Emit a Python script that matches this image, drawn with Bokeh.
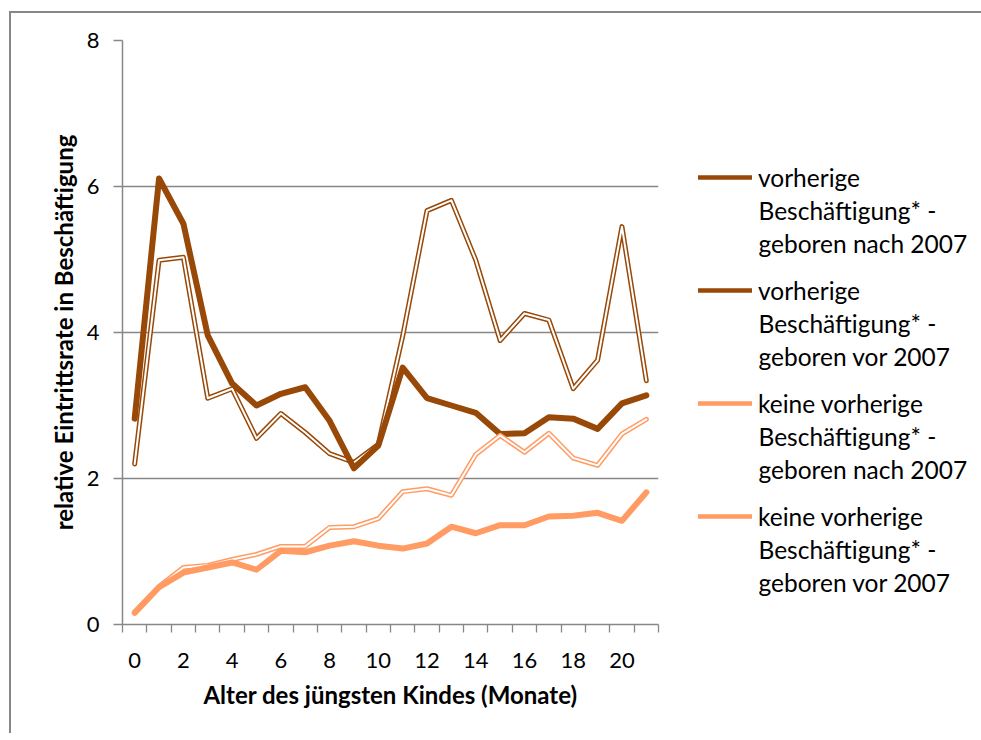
from bokeh.plotting import figure
from bokeh.layouts import row
from bokeh.models import (Range1d, FixedTicker, Legend, LegendItem, Title, Label,
                          ColumnDataSource)
from bokeh.embed import file_html
from bokeh.resources import INLINE

# ---- data ----
months = list(range(22))
x_tick_labels = [0, 2, 4, 6, 8, 10, 12, 14, 16, 18, 20]
y_ticks = [0, 2, 4, 6, 8]

vorherige_nach_2007 = [2.20, 4.99, 5.03, 3.10, 3.23, 2.55, 2.89, 2.63, 2.34, 2.22, 2.47,
                       3.95, 5.67, 5.81, 4.99, 3.89, 4.26, 4.17, 3.23, 3.62, 5.45, 3.34]
vorherige_vor_2007 = [2.82, 6.11, 5.49, 3.96, 3.30, 3.00, 3.16, 3.25, 2.79, 2.14, 2.45,
                      3.52, 3.10, 3.00, 2.90, 2.61, 2.62, 2.84, 2.82, 2.68, 3.03, 3.14]
keine_nach_2007 = [0.17, 0.52, 0.78, 0.81, 0.89, 0.96, 1.07, 1.07, 1.33, 1.34, 1.45,
                   1.82, 1.86, 1.77, 2.33, 2.59, 2.36, 2.62, 2.28, 2.18, 2.61, 2.81]
keine_vor_2007 = [0.16, 0.51, 0.71, 0.78, 0.85, 0.75, 1.01, 0.99, 1.08, 1.14, 1.08,
                  1.04, 1.11, 1.34, 1.25, 1.36, 1.36, 1.48, 1.49, 1.53, 1.42, 1.81]

legend_lines = [
    ["vorherige", "Beschäftigung* -", "geboren nach 2007"],
    ["vorherige", "Beschäftigung* -", "geboren vor 2007"],
    ["keine vorherige", "Beschäftigung* -", "geboren nach 2007"],
    ["keine vorherige", "Beschäftigung* -", "geboren vor 2007"],
]
x_title = "Alter des jüngsten Kindes (Monate)"
y_title = "relative Eintrittsrate in Beschäftigung"

DARK = "#984807"
LIGHT = "#FF9B63"
GRID = "#878787"
FONT = "Lato"

# canvas offset caused by css margin + border on the row
OX, OY = 11, 13
H = 720
W1 = 652
W2 = 318
FL, FT, FB = 122 - OX, 40 - OY, 624 - OY

p = figure(width=W1, height=H, output_backend="svg", toolbar_location=None,
           x_range=Range1d(-0.5, 21.5), y_range=Range1d(0, 8),
           min_border_left=FL, min_border_top=FT,
           min_border_right=W1 - (658 - OX), min_border_bottom=H - FB)
p.outline_line_color = None
p.background_fill_color = "white"
p.border_fill_color = "white"

# axes
xa = p.xaxis[0]
xa.ticker = FixedTicker(ticks=x_tick_labels,
                        minor_ticks=[m - 0.5 for m in months] + [21.5])
xa.major_tick_out = 0
xa.major_tick_in = 0
xa.minor_tick_out = 8
xa.minor_tick_in = 0
xa.minor_tick_line_color = GRID
xa.minor_tick_line_width = 1.3
xa.axis_line_color = GRID
xa.axis_line_width = 1.5
xa.major_label_text_font = FONT
xa.major_label_text_font_size = "22px"
xa.major_label_text_color = "black"
xa.major_label_standoff = 20

ya = p.yaxis[0]
ya.ticker = FixedTicker(ticks=y_ticks)
ya.major_tick_out = 9
ya.major_tick_in = 0
ya.major_tick_line_color = GRID
ya.major_tick_line_width = 1.3
ya.minor_tick_line_color = None
ya.axis_line_color = GRID
ya.axis_line_width = 1.5
ya.major_label_text_font = FONT
ya.major_label_text_font_size = "22px"
ya.major_label_text_color = "black"
ya.major_label_standoff = 14

p.xgrid.visible = False
p.ygrid.ticker = FixedTicker(ticks=y_ticks[1:])
p.ygrid.grid_line_color = GRID
p.ygrid.grid_line_width = 1.5

src = ColumnDataSource(dict(x=months, a=vorherige_nach_2007, b=vorherige_vor_2007,
                            c=keine_nach_2007, d=keine_vor_2007))

# series 1: double dark
p.line("x", "a", source=src, line_color=DARK, line_width=5,
       line_join="round", line_cap="round")
p.line("x", "a", source=src, line_color="white", line_width=2,
       line_join="round", line_cap="round")
# series 2: thick dark
p.line("x", "b", source=src, line_color=DARK, line_width=6,
       line_join="round", line_cap="round")
# series 3: double light
p.line("x", "c", source=src, line_color=LIGHT, line_width=5,
       line_join="round", line_cap="round")
p.line("x", "c", source=src, line_color="white", line_width=2,
       line_join="round", line_cap="round")
# series 4: thick light
p.line("x", "d", source=src, line_color=LIGHT, line_width=6,
       line_join="round", line_cap="round")

# axis titles
p.add_layout(Title(text=y_title, align="center", standoff=12,
                   text_font=FONT, text_font_size="24px", text_font_style="bold",
                   text_color="black"), "left")
p.add_layout(Title(text=x_title, align="center", standoff=15,
                   text_font=FONT, text_font_size="24px", text_font_style="bold",
                   text_color="black"), "below")

# ---- legend panel ----
q = figure(width=W2, height=H, output_backend="svg", toolbar_location=None,
           x_range=Range1d(0, 1), y_range=Range1d(0, 1),
           x_axis_type=None, y_axis_type=None,
           min_border_left=0, min_border_right=0, min_border_top=0, min_border_bottom=0)
q.outline_line_color = None
q.background_fill_color = "white"
q.border_fill_color = "white"

colors = [DARK, DARK, LIGHT, LIGHT]
items = []
for lines, col in zip(legend_lines, colors):
    # legend key only: sits outside the visible range of this panel
    r = q.line(x=[5, 6], y=[5, 5], line_color=col, line_width=4.5, line_cap="round")
    items.append(LegendItem(label=lines[0], renderers=[r]))

LX = 698 - OX - W1          # legend glyph start inside q
PITCH = 113
FIRST = 178                 # page y of first legend line
LINE = 33
BOTTOM = 625                # page y of q's frame bottom (frames are aligned in a row)

legend = Legend(items=items)
legend.glyph_width = 54
legend.glyph_height = 30
legend.label_height = 30
legend.label_standoff = 6
legend.padding = 0
legend.margin = 0
legend.spacing = PITCH - 30
legend.label_text_font = FONT
legend.label_text_font_size = "24.5px"
legend.label_text_color = "black"
legend.label_text_baseline = "middle"
legend.border_line_color = None
legend.background_fill_alpha = 0
leg_h = 4 * 30 + 3 * (PITCH - 30)
legend.location = (LX, BOTTOM - (FIRST - 15 + leg_h))
q.add_layout(legend, "center")

for g, lines in enumerate(legend_lines):
    for k in (1, 2):
        py = FIRST + g * PITCH + k * LINE
        q.add_layout(Label(x=LX + 60, y=BOTTOM - py, x_units="screen", y_units="screen",
                           text=lines[k], text_baseline="middle", text_align="left",
                           text_font=FONT, text_font_size="24.5px", text_color="black"))

layout = row(p, q, spacing=0)
layout.styles = {"margin-left": "9px", "margin-top": "11px",
                 "border-left": "2px solid #878787", "border-top": "2px solid #878787"}

open("out.html", "w").write(file_html(layout, INLINE))
